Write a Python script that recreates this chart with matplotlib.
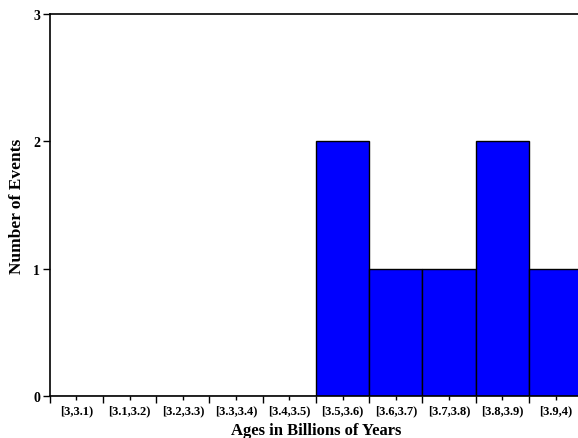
import matplotlib.pyplot as plt
import numpy as np

bin_edges = [3.0, 3.1, 3.2, 3.3, 3.4, 3.5, 3.6, 3.7, 3.8, 3.9, 4.0]
counts = [0, 0, 0, 0, 0, 2, 1, 1, 2, 1]
bin_labels = ['[3,3.1)', '[3.1,3.2)', '[3.2,3.3)', '[3.3,3.4)', '[3.4,3.5)',
              '[3.5,3.6)', '[3.6,3.7)', '[3.7,3.8)', '[3.8,3.9)', '[3.9,4)']

plt.rcParams['font.family'] = ['Liberation Serif', 'DejaVu Serif']
plt.rcParams['font.weight'] = 'bold'

fig = plt.figure(figsize=(5.78, 4.39), dpi=100)
ax = fig.add_axes([0.0860, 0.0957, 0.9213, 0.8701])

lefts = np.array(bin_edges[:-1])
widths = np.diff(bin_edges)
centers = lefts + widths / 2

ax.bar(lefts, counts, width=widths, align='edge', color='#0000ff',
       edgecolor='black', linewidth=1.0)

ax.set_xlim(bin_edges[0], bin_edges[-1])
ax.set_ylim(0, 3)

# major ticks on bin edges, minor ticks at centres carry the labels
ax.set_xticks(bin_edges)
ax.set_xticklabels([])
ax.set_xticks(centers, minor=True)
ax.set_xticklabels(bin_labels, minor=True, fontsize=9, fontweight='bold')
ax.tick_params(axis='x', which='major', direction='out', length=5, width=1)
ax.tick_params(axis='x', which='minor', direction='out', length=3, width=1, pad=3)

ax.set_yticks([0, 1, 2, 3])
ax.set_yticklabels(['0', '1', '2', '3'], fontsize=10, fontweight='bold')
ax.tick_params(axis='y', direction='out', length=5, width=1, pad=2)

ax.spines['right'].set_visible(False)
for s in ['left', 'top', 'bottom']:
    ax.spines[s].set_linewidth(1.2)

ax.set_xlabel('Ages in Billions of Years', fontsize=12, fontweight='bold', labelpad=4)
ax.set_ylabel('Number of Events', fontsize=12.5, fontweight='bold', labelpad=6)

fig.savefig('out.png', dpi=100)
